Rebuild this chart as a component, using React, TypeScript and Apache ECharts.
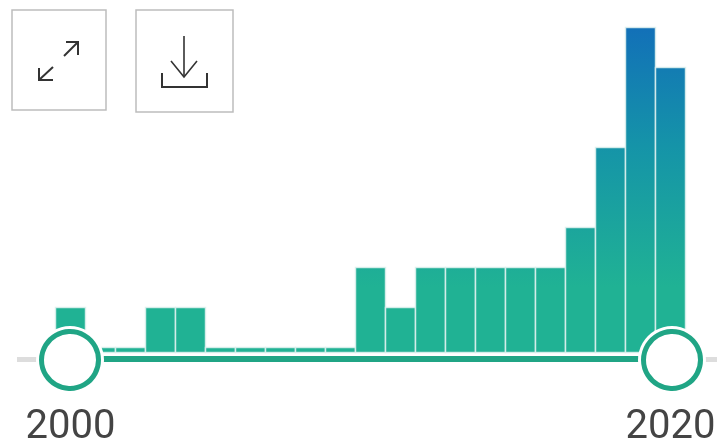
import React, { useEffect, useRef } from "react";
import * as echarts from "echarts";

const years = ["2000","2001","2002","2003","2004","2005","2006","2007","2008","2009","2010","2011","2012","2013","2014","2015","2016","2017","2018","2019","2020"];
const counts = [1, 0, 0, 1, 1, 0, 0, 0, 0, 0, 2, 1, 2, 2, 2, 2, 2, 3, 5, 8, 7];
const edgeLabels = ["2000", "2020"];

const AXIS_FLOOR = -0.125;
const TEAL = "#20a585";
const INK = "#333333";

export default function App() {
  const ref = useRef<HTMLDivElement>(null);

  useEffect(() => {
    const chart = echarts.init(ref.current!, null, { renderer: "svg" });
    const fill = new echarts.graphic.LinearGradient(0, 27, 0, 352, [
      { offset: 0, color: "#1270b8" },
      { offset: 0.37, color: "#1594a8" },
      { offset: 0.8, color: "#20b294" },
      { offset: 1, color: "#20b294" },
    ], true);

    const outline = (extra: object) => ({
      style: { fill: "none", stroke: INK, lineWidth: 2, ...extra },
      z: 20,
    });

    chart.setOption({
      animation: false,
      grid: { left: 55.5, top: 27.5, width: 630, height: 325, containLabel: false, outerBoundsMode: "none" },
      xAxis: {
        type: "category",
        data: years,
        axisLine: { show: false },
        axisTick: { show: false },
        axisLabel: {
          interval: 0,
          margin: 52,
          fontFamily: "Roboto",
          fontSize: 40,
          color: "#444444",
          formatter: (v: string) => (edgeLabels.includes(v) ? v : ""),
        },
      },
      yAxis: { type: "value", min: AXIS_FLOOR, max: 8, show: false, splitLine: { show: false } },
      series: [
        {
          type: "custom",
          data: years.map((y, i) => [i, counts[i]]),
          encode: { x: 0, y: 1 },
          clip: false,
          z: 2,
          renderItem: (_: unknown, api: any) => {
            const top = api.coord([api.value(0), api.value(1)]);
            const base = api.coord([api.value(0), AXIS_FLOOR]);
            const w = api.size([1, 0])[0];
            return {
              type: "rect",
              shape: { x: top[0] - w / 2, y: top[1], width: w, height: base[1] - top[1] },
              style: { fill, stroke: "rgba(225,242,240,0.85)", lineWidth: 1.5 },
            };
          },
        },
      ],
      graphic: [
        // Range slider: rail, selected track and the two handles
        { type: "rect", z: 10, shape: { x: 17, y: 357, width: 20, height: 5 }, style: { fill: "#dddddd" } },
        { type: "rect", z: 10, shape: { x: 704, y: 357, width: 13, height: 5 }, style: { fill: "#dddddd" } },
        { type: "rect", z: 10, shape: { x: 100, y: 356, width: 540, height: 6 }, style: { fill: TEAL } },
        { type: "circle", z: 11, shape: { cx: 70, cy: 360, r: 34 }, style: { fill: "#ffffff" } },
        { type: "circle", z: 12, shape: { cx: 70, cy: 360, r: 28.5 }, style: { fill: "#ffffff", stroke: TEAL, lineWidth: 5 } },
        { type: "circle", z: 11, shape: { cx: 672, cy: 360, r: 34 }, style: { fill: "#ffffff" } },
        { type: "circle", z: 12, shape: { cx: 672, cy: 360, r: 28.5 }, style: { fill: "#ffffff", stroke: TEAL, lineWidth: 5 } },

        // Expand button
        { type: "rect", z: 20, shape: { x: 12, y: 10, width: 94, height: 100 }, style: { fill: "#ffffff", stroke: "#bdbdbd", lineWidth: 1.5 } },
        { type: "line", shape: { x1: 64, y1: 56, x2: 78, y2: 42 }, ...outline({}) },
        { type: "polyline", shape: { points: [[66, 42], [78, 42], [78, 55]] }, ...outline({}) },
        { type: "line", shape: { x1: 53, y1: 67, x2: 39, y2: 80 }, ...outline({}) },
        { type: "polyline", shape: { points: [[39, 68], [39, 80], [53, 80]] }, ...outline({}) },

        // Download button
        { type: "rect", z: 20, shape: { x: 136, y: 10, width: 97, height: 102 }, style: { fill: "#ffffff", stroke: "#bdbdbd", lineWidth: 1.5 } },
        { type: "line", shape: { x1: 184, y1: 36, x2: 184, y2: 77 }, ...outline({ lineWidth: 1.6 }) },
        { type: "polyline", shape: { points: [[171, 61], [184, 77], [197, 61]] }, ...outline({ lineWidth: 1.6 }) },
        { type: "polyline", shape: { points: [[162, 73], [162, 87], [207, 87], [207, 73]] }, ...outline({}) },
      ].map((el: any) => ({ ...el, z: el.z ?? 20 })),
    });

    return () => chart.dispose();
  }, []);

  return <div ref={ref} style={{ position: "fixed", left: 0, top: 0, width: 717, height: 448 }} />;
}
